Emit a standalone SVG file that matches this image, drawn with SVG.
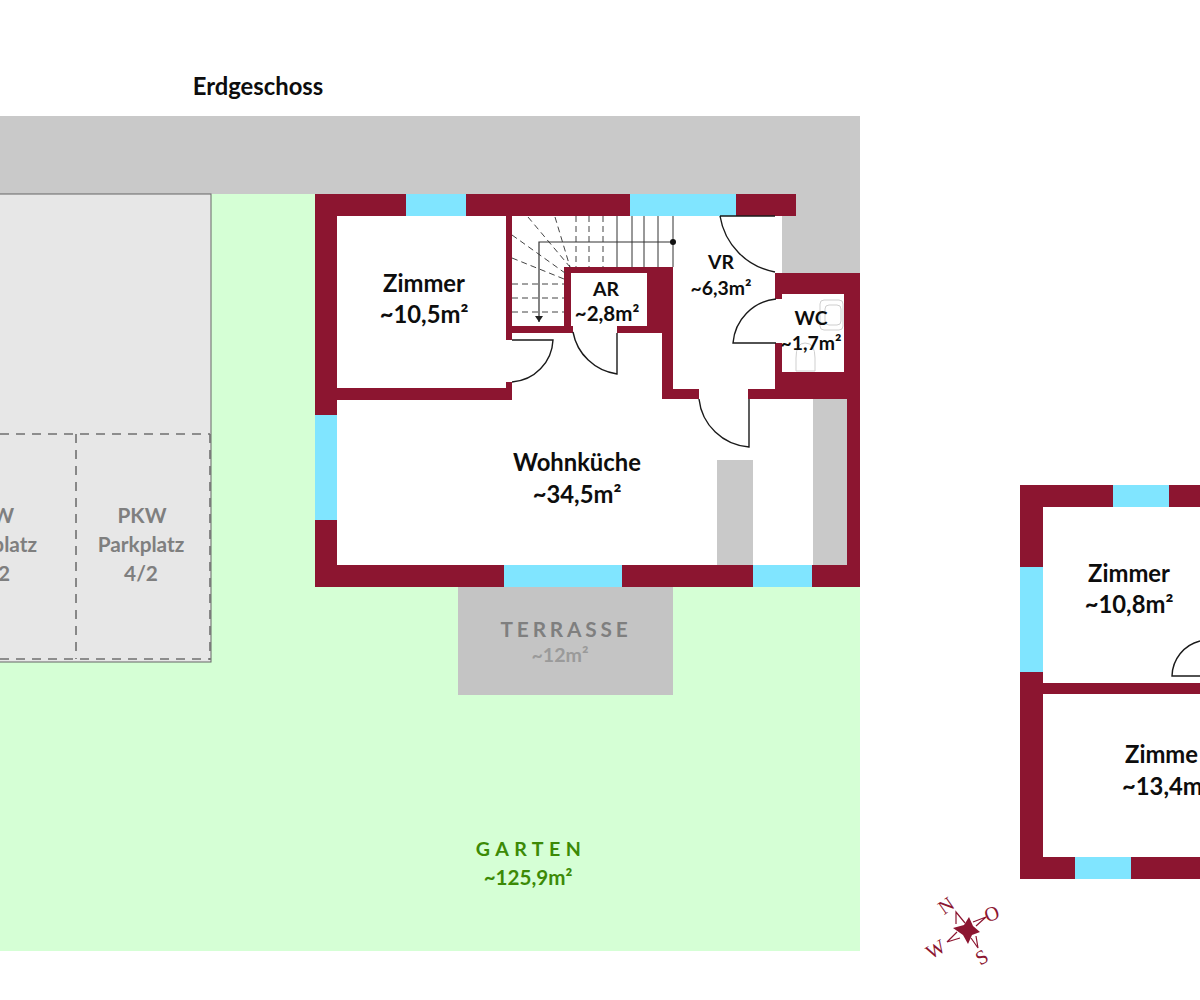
<svg xmlns="http://www.w3.org/2000/svg" width="1200" height="1000" viewBox="0 0 1200 1000">
<style>
.wall{fill:#8c1530}.win{fill:#80e5ff}.grey{fill:#c9c9c9}
.door{fill:none;stroke:#1a1a1a;stroke-width:1.4}
.tread{stroke:#333;stroke-width:1;fill:none}
.dash{stroke:#444;stroke-width:1;stroke-dasharray:6 4;fill:none}
.park{stroke:#707070;stroke-width:1.6;stroke-dasharray:9 7;fill:none}
text{font-family:"Lato","Carlito","Liberation Sans",sans-serif;font-weight:700;text-anchor:middle}
.r{font-size:23.8px;fill:#0d0d0d}
.s{font-size:19.4px;fill:#0d0d0d}
.p{font-size:20.8px;fill:#7f7f7f}
.c{font-family:"Liberation Serif",serif;font-size:20px;fill:#8c1530;font-weight:400}
</style>
<defs>
<marker id="ah" markerWidth="8" markerHeight="8" refX="4" refY="6" orient="0" markerUnits="userSpaceOnUse"><path d="M0,0 L8,0 L4,6 Z" fill="#222"/></marker>
</defs>
<rect width="1200" height="1000" fill="#fff"/>

<g id="site">
<rect x="0" y="116" width="860" height="78" class="grey"/>
<rect x="211" y="194" width="104" height="468" fill="#d5ffd5"/>
<rect x="0" y="587" width="860" height="364" fill="#d5ffd5"/>
<rect x="-3" y="194" width="214" height="468" fill="#e7e7e7" stroke="#666" stroke-width="1"/>
<path class="park" d="M0 434H210M76 434V659M210 434V660M0 659H210"/>
</g>

<g id="erdgeschoss">
<rect x="337" y="216" width="511" height="349" fill="#fff"/>
<rect x="782" y="194" width="78" height="79" class="grey"/>
<rect x="458" y="587" width="215" height="108" fill="#c4c4c4"/>
<rect x="717" y="460" width="36" height="105" class="grey"/>
<rect x="813" y="399" width="34" height="166" class="grey"/>
<g class="wall">
<rect x="315" y="194" width="481" height="22"/>
<rect x="315" y="194" width="22" height="393"/>
<rect x="315" y="565" width="545" height="22"/>
<rect x="847" y="273" width="13" height="314"/>
<rect x="337" y="388" width="175" height="12"/>
<rect x="506" y="216" width="6" height="124"/>
<rect x="506" y="382" width="6" height="7"/>
<rect x="506" y="326" width="67" height="7"/>
<rect x="564" y="267" width="109" height="6"/>
<rect x="564" y="267" width="7" height="66"/>
<rect x="647" y="267" width="26" height="66"/>
<rect x="617" y="326" width="56" height="7"/>
<rect x="662" y="326" width="11" height="73"/>
<rect x="662" y="389" width="37" height="10"/>
<rect x="748" y="389" width="112" height="10"/>
<rect x="775" y="273" width="85" height="21"/>
<rect x="775" y="273" width="7" height="26"/>
<rect x="775" y="343" width="7" height="46"/>
<rect x="775" y="372" width="85" height="20"/>
<rect x="844" y="273" width="16" height="126"/>
</g>
<g class="win">
<rect x="406" y="194" width="60" height="22"/>
<rect x="630" y="194" width="106" height="22"/>
<rect x="315" y="415" width="22" height="105"/>
<rect x="504" y="565" width="118" height="22"/>
<rect x="753" y="565" width="59" height="22"/>
</g>
<g fill="none" stroke="#cfcfcf" stroke-width="1">
<rect x="820" y="300" width="23" height="30" rx="4"/>
<rect x="825" y="305" width="16" height="20" rx="4"/>
<path d="M796 371V358Q796 343 805 343Q815 343 815 358V371Z"/>
</g>
<g>
<path class="tread" d="M617 216V267M632 216V267M644 216V267M658 216V267M673 216V267"/>
<path class="dash" d="M576 216V267M589 216V267M603 216V267M528 217L570 267M555 217L570 267M512 235L565 273M512 258L564 279M512 284H564M512 298H564M512 312H564"/>
<path d="M673 242H539V322" fill="none" stroke="#333" stroke-width="1.2" marker-end="url(#ah)"/>
<circle cx="673" cy="242" r="3" fill="#111"/>
</g>
<g class="door">
<path d="M720 216H775M720 216A68 68 0 0 0 775 272"/>
<path d="M776 343H733A48 48 0 0 1 776 299"/>
<path d="M617 333V374A52 52 0 0 1 573 332"/>
<path d="M512 340H553A44 44 0 0 1 512 382"/>
<path d="M749 399V447A54 54 0 0 1 699 399"/>
</g>
</g>

<g id="obergeschoss">
<g class="wall">
<rect x="1020" y="485" width="180" height="22"/>
<rect x="1020" y="485" width="23" height="394"/>
<rect x="1020" y="683" width="180" height="11"/>
<rect x="1020" y="857" width="180" height="22"/>
</g>
<g class="win">
<rect x="1113" y="485" width="56" height="22"/>
<rect x="1020" y="567" width="23" height="105"/>
<rect x="1075" y="857" width="56" height="22"/>
</g>
<path class="door" d="M1200 676H1172A37 37 0 0 1 1200 641"/>
</g>

<g id="labels">
<text x="258" y="95" style="font-size:23.8px;fill:#0d0d0d">Erdgeschoss</text>
<text x="424" y="292" class="r">Zimmer</text>
<text x="424" y="323" class="r">~10,5m²</text>
<text x="721" y="269" class="s">VR</text>
<text x="721" y="295" class="s">~6,3m²</text>
<text x="606" y="296" class="s">AR</text>
<text x="607" y="321" class="s" style="font-size:20.5px">~2,8m²</text>
<text x="811" y="325" class="s">WC</text>
<text x="811" y="350" class="s">~1,7m²</text>
<text x="577" y="471" class="r">Wohnküche</text>
<text x="577" y="503" class="r">~34,5m²</text>
<text x="1129" y="582" class="r">Zimmer</text>
<text x="1129" y="613" class="r">~10,8m²</text>
<text x="1125" y="763" class="r" style="text-anchor:start">Zimme</text>
<text x="1122" y="795" class="r" style="text-anchor:start">~13,4m</text>
<text x="142" y="523" class="p">PKW</text>
<text x="141" y="552" class="p">Parkplatz</text>
<text x="141" y="581" class="p">4/2</text>
<text x="14" y="523" class="p" style="text-anchor:end">W</text>
<text x="37" y="552" class="p" style="text-anchor:end">platz</text>
<text x="10" y="581" class="p" style="text-anchor:end">2</text>
<text x="566" y="637" class="p" style="letter-spacing:3.8px">TERRASSE</text>
<text x="560" y="662" class="p" style="font-size:19.6px;fill:#9a9a9a">~12m²</text>
<text x="531" y="856" style="font-size:19.6px;fill:#3c8a06;letter-spacing:5.4px">GARTEN</text>
<text x="528" y="885" style="font-size:20.6px;fill:#3c8a06">~125,9m²</text>
</g>

<g id="compass">
<path d="M969 917L973 926L980 932L972 935L968 944L963 935L953 928L964 925Z" fill="#8c1530"/>
<path d="M965 923L956 912L956 924M976 926L986 917L973 922M960 938L947 942L957 932M971 938L978 948L976 936" fill="none" stroke="#8c1530" stroke-width="1.2"/>
<text class="c" transform="translate(950 911) rotate(-35)">N</text>
<text class="c" transform="translate(994 920) rotate(-20)">O</text>
<text class="c" transform="translate(985 963) rotate(-30)">S</text>
<text class="c" transform="translate(939 955) rotate(-30)">W</text>
</g>
</svg>
